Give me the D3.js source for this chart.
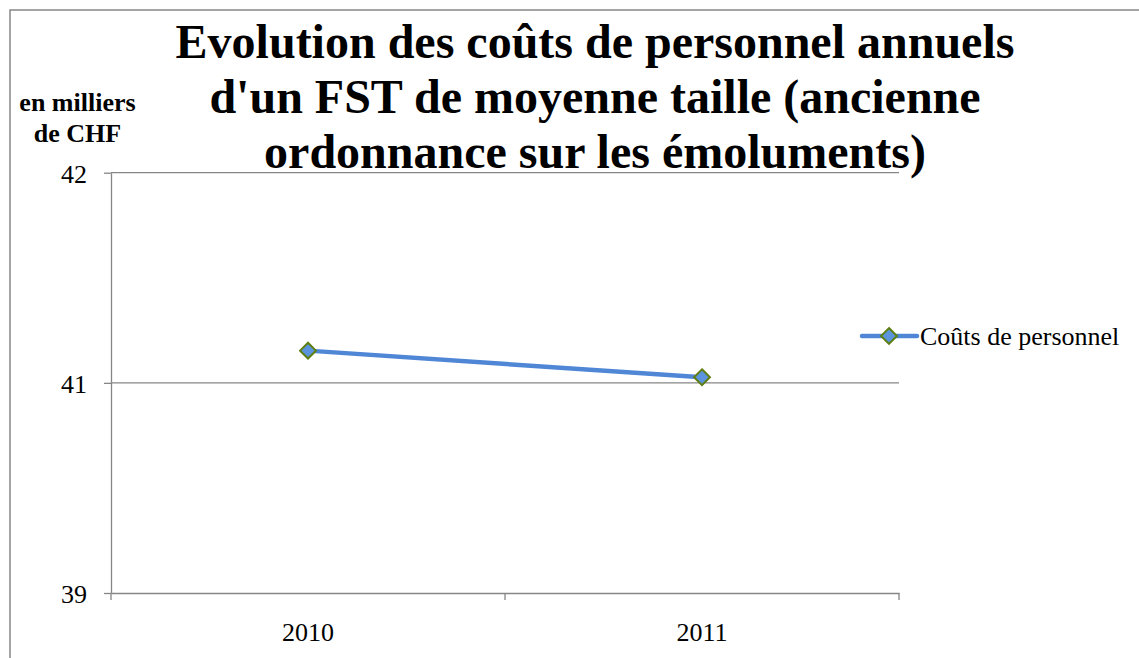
<!DOCTYPE html>
<html>
<head>
<meta charset="utf-8">
<script src="https://d3js.org/d3.v7.min.js"></script>
<style>
body { margin: 0; background: #fff; }
svg { display: block; }
</style>
</head>
<body>
<svg width="1139" height="658"></svg>
<script>
// data
var years = ["2010", "2011"];
var couts = [40.93, 40.74];
var seriesName = "Coûts de personnel";
var yTickValues = [39.2, 40.7, 42.2];
var yTickLabels = ["39", "41", "42"];
var titleLines = ["Evolution des coûts de personnel annuels",
	"d'un FST de moyenne taille (ancienne",
	"ordonnance sur les émoluments)"];
var yTitleLines = ["en milliers", "de CHF"];

var svg = d3.select("svg");
var font = "'Liberation Serif', 'Times New Roman', serif";

// outer frame
svg.append("rect")
	.attr("x", 10).attr("y", 10)
	.attr("width", 1200).attr("height", 700)
	.attr("fill", "none")
	.attr("stroke", "#868686")
	.attr("stroke-width", 1.5);

var plotLeft = 111, plotRight = 899, plotTop = 172.7, plotBottom = 593;

var x = d3.scaleBand().domain(years).range([plotLeft, plotRight]);
var y = d3.scaleLinear().domain([yTickValues[0], yTickValues[2]]).range([plotBottom, plotTop]);

// horizontal gridlines
svg.append("g")
	.selectAll("line")
	.data(yTickValues.slice(1))
	.enter()
	.append("line")
	.attr("x1", plotLeft).attr("x2", plotRight)
	.attr("y1", function(d) { return y(d); })
	.attr("y2", function(d) { return y(d); })
	.attr("stroke", "#868686")
	.attr("stroke-width", 1.3);

// y axis
var yAxis = svg.append("g")
	.attr("transform", "translate(" + plotLeft + ",0)")
	.call(d3.axisLeft(y).tickValues(yTickValues).tickSize(7).tickSizeOuter(0)
		.tickFormat(function(d, i) { return yTickLabels[i]; }));
yAxis.select(".domain").attr("stroke", "#868686").attr("stroke-width", 1.3);
yAxis.selectAll(".tick line").attr("stroke", "#868686").attr("stroke-width", 1.3);
yAxis.selectAll(".tick text")
	.attr("x", -37)
	.attr("dy", "9.5")
	.attr("text-anchor", "middle")
	.style("font-family", font)
	.style("font-size", "26px")
	.attr("fill", "#000");

// x axis
var xAxis = svg.append("g")
	.attr("transform", "translate(0," + plotBottom + ")")
	.call(d3.axisBottom(x).tickSize(0).tickSizeOuter(0));
xAxis.select(".domain").attr("stroke", "#868686").attr("stroke-width", 1.3);
xAxis.selectAll(".tick text")
	.attr("y", 48)
	.attr("dy", "0")
	.style("font-family", font)
	.style("font-size", "26px")
	.attr("fill", "#000");
// category separators
var sep = [plotLeft].concat(years.map(function(d) { return x(d) + x.bandwidth(); }));
xAxis.selectAll("line.sep")
	.data(sep)
	.enter()
	.append("line")
	.attr("class", "sep")
	.attr("x1", function(d) { return d; }).attr("x2", function(d) { return d; })
	.attr("y1", 0).attr("y2", 7)
	.attr("stroke", "#868686")
	.attr("stroke-width", 1.3);

// the series line
var pts = years.map(function(d, i) { return [x(d) + x.bandwidth() / 2, y(couts[i])]; });
svg.append("path")
	.attr("d", d3.line()(pts))
	.attr("fill", "none")
	.attr("stroke", "#4F86D6")
	.attr("stroke-width", 4.5)
	.attr("stroke-linecap", "round");

var diamond = d3.symbol().type(d3.symbolDiamond2).size(160);
svg.selectAll("path.marker")
	.data(pts)
	.enter()
	.append("path")
	.attr("class", "marker")
	.attr("d", diamond)
	.attr("transform", function(d) { return "translate(" + d[0] + "," + d[1] + ")"; })
	.attr("fill", "#5B94DC")
	.attr("stroke", "#5F7F12")
	.attr("stroke-width", 2);

// legend
var lg = svg.append("g").attr("transform", "translate(862,336)");
lg.append("line")
	.attr("x1", 0).attr("x2", 55).attr("y1", 0).attr("y2", 0)
	.attr("stroke", "#4F86D6").attr("stroke-width", 4.5).attr("stroke-linecap", "round");
lg.append("path")
	.attr("d", diamond)
	.attr("transform", "translate(27,0)")
	.attr("fill", "#5B94DC")
	.attr("stroke", "#5F7F12")
	.attr("stroke-width", 2);
lg.append("text")
	.attr("x", 58).attr("y", 9)
	.style("font-family", font)
	.style("font-size", "26px")
	.text(seriesName);

// title
svg.append("g")
	.selectAll("text")
	.data(titleLines)
	.enter()
	.append("text")
	.attr("x", 595)
	.attr("y", function(d, i) { return 58 + i * 55; })
	.attr("text-anchor", "middle")
	.style("font-family", font)
	.style("font-weight", "bold")
	.style("font-size", "48px")
	.text(function(d) { return d; });

// axis title
svg.append("text")
	.attr("text-anchor", "middle")
	.style("font-family", font)
	.style("font-weight", "bold")
	.style("font-size", "26px")
	.selectAll("tspan")
	.data(yTitleLines)
	.enter()
	.append("tspan")
	.attr("x", 77.5)
	.attr("y", function(d, i) { return 111 + i * 31; })
	.text(function(d) { return d; });
</script>
</body>
</html>
